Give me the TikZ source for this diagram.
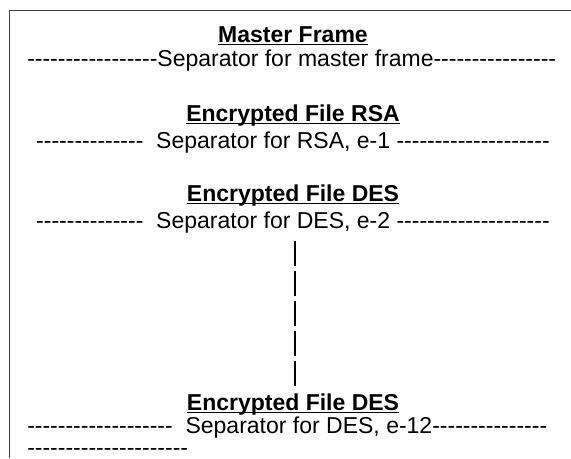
\documentclass[tikz,border=0pt]{standalone}
\usepackage{fontspec}
\setmainfont{Liberation Sans}[Ligatures=TeXOff]

% a run of n hyphens
\ExplSyntaxOn
\NewDocumentCommand\dashrun{m}{\prg_replicate:nn{#1}{-}}
\ExplSyntaxOff

\tikzset{
  heading/.style={font=\fontsize{17.25}{20}\selectfont\bfseries, inner sep=0pt, anchor=base},
  sepline/.style={font=\fontsize{17.25}{20}\selectfont, inner sep=0pt, anchor=base},
  uline/.style={line width=1.1pt},
  vbar/.style={line width=1.1pt, dash pattern=on 18.75pt off 3.75pt},
  border/.style={line width=1.2pt, black!75}
}

\begin{document}
\begin{tikzpicture}[x=0.75pt, y=-0.75pt]
    \useasboundingbox (0,0) rectangle (571,458);
    \draw[border] (571,10.5) -| (9.5,458);

    % Frames and separators
    \node[heading] (hMaster) at (293,42) {Master Frame};
    \node[sepline, anchor=base west] (sMaster) at (27,66) {\dashrun{17}Separator for master frame\dashrun{16}};
    \node[heading] (hRSA) at (293,121) {Encrypted File RSA};
    \node[sepline] (sRSA) at (293,148) {\dashrun{14}\ \ Separator for RSA, e-1 \dashrun{20}};
    \node[heading] (hDES) at (293,201) {Encrypted File DES};
    \node[sepline] (sDES) at (293,228) {\dashrun{14}\ \ Separator for DES, e-2 \dashrun{20}};
    \node[heading] (hLast) at (293,410) {Encrypted File DES};
    \node[sepline, anchor=base west] (sLast) at (27,433) {\dashrun{19}\ \ Separator for DES, e-12\dashrun{15}};
    \node[sepline, anchor=base west] (sTail) at (27,455) {\dashrun{21}};

    % Underlines
    \foreach \h in {hMaster, hRSA, hDES, hLast}
        \draw[uline] ([yshift=-1.9pt]\h.base west) -- ([yshift=-1.9pt]\h.base east);

    % Skipped frames
    \coordinate (barTop) at (295,241);
    \coordinate (barEnd) at (295,386);
    \draw[vbar] (barTop) -- (barEnd);
\end{tikzpicture}
\end{document}
